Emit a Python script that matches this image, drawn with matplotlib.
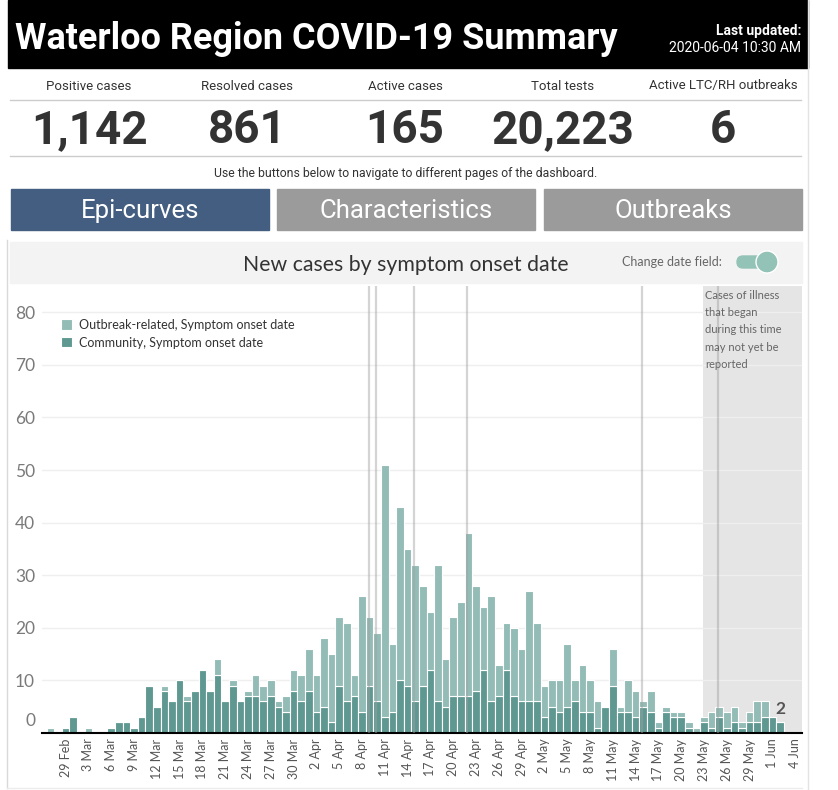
import matplotlib.pyplot as plt
import matplotlib.dates as mdates
from matplotlib.patches import Rectangle, FancyBboxPatch, Circle
from matplotlib.transforms import ScaledTranslation
import pandas as pd

plt.rcParams['font.family'] = ['Lato', 'DejaVu Sans']
COND = ['Roboto', 'DejaVu Sans']

# summary numbers
kpi_labels = ['Positive cases', 'Resolved cases', 'Active cases', 'Total tests', 'Active LTC/RH outbreaks']
kpi_values = [1142, 861, 165, 20223, 6]
buttons = ['Epi-curves', 'Characteristics', 'Outbreaks']

# daily new cases by symptom onset date, 27 Feb - 2 Jun 2020
dates = pd.date_range('2020-02-27', '2020-06-02', freq='D')
community = [0, 0, 1,
             3, 0, 0, 0, 0, 1, 2, 2, 1, 3,
             9, 5, 8, 6, 10, 6, 8, 12, 8, 11,
             6, 9, 6, 7, 7, 6, 7, 5, 4, 8, 6,
             8, 4, 5, 2, 9, 6, 7, 4, 9, 6,
             3, 4, 10, 9, 6, 9, 12, 6, 5, 7,
             7, 7, 8, 12, 6, 7, 12, 7, 6, 6,
             6, 3, 5, 4, 5, 6, 4, 4, 1, 5,
             9, 4, 4, 3, 5, 4, 1, 4, 3, 3,
             1, 0, 2, 1, 3, 1, 2, 1, 2, 2, 3,
             3, 2]
outbreak = [1, 0, 0,
            0, 0, 1, 0, 0, 0, 0, 0, 0, 0,
            0, 0, 1, 0, 0, 1, 0, 0, 0, 3,
            0, 1, 0, 1, 4, 3, 3, 1, 3, 4, 5,
            8, 7, 13, 13, 13, 15, 4, 22, 13, 13,
            48, 13, 33, 26, 26, 19, 11, 26, 9, 15,
            18, 31, 20, 12, 20, 6, 9, 13, 10, 21,
            15, 6, 5, 6, 12, 4, 9, 6, 5, 0,
            7, 1, 6, 5, 1, 4, 1, 1, 1, 1,
            1, 1, 1, 3, 2, 3, 3, 1, 2, 4, 3,
            0, 0]
ref_dates = pd.to_datetime(['2020-04-09', '2020-04-10', '2020-04-15',
                            '2020-04-22', '2020-05-15', '2020-05-25'])
lag_start = pd.Timestamp('2020-05-23')
tick_dates = pd.date_range('2020-02-29', '2020-06-04', freq='3D')
yticks = list(range(0, 81, 10))

DARK = '#5f9891'
LIGHT = '#93bcb6'

fig = plt.figure(figsize=(8.38, 7.9), dpi=100)
renderer = fig.canvas.get_renderer()


def fit(t, width):
    w = t.get_window_extent(renderer).width
    t.set_fontsize(t.get_fontsize() * width / w)


# background layer in pixel coordinates
bg = fig.add_axes([0, 0, 1, 1])
bg.set_xlim(0, 838)
bg.set_ylim(790, 0)
bg.axis('off')

bg.add_patch(Rectangle((8, 0), 800, 68, color='black'))
t = bg.text(15, 39, 'Waterloo Region COVID-19 Summary', color='white',
            fontsize=28, fontweight='bold', va='center', family=COND)
fit(t, 602)
bg.text(801, 31, 'Last updated:', color='white', fontsize=10,
        fontweight='bold', ha='right', va='center', family=COND)
bg.text(801, 48, '2020-06-04 10:30 AM', color='white', fontsize=10,
        ha='right', va='center', family=COND)

kpi_x = [89, 247, 405, 563, 723]
for lab, val, x in zip(kpi_labels, kpi_values, kpi_x):
    bg.text(x, 86, lab, ha='center', va='center', fontsize=9.5, color='#333333', family=COND)
    bg.text(x, 130, f'{val:,}', ha='center', va='center', fontsize=33,
            fontweight='bold', color='#333333', family=COND)
for y in [100, 156]:
    bg.plot([10, 801], [y, y], color='#cccccc', lw=1)
bg.text(406, 173, 'Use the buttons below to navigate to different pages of the dashboard.',
        ha='center', va='center', fontsize=8.8, color='#333333', family=COND)

for i, (name, x0) in enumerate(zip(buttons, [11, 277, 544])):
    bg.add_patch(Rectangle((x0, 189), 258, 41, color='#435e81' if i == 0 else '#9b9b9b'))
    bg.text(x0 + 129, 211, name, ha='center', va='center', fontsize=18.5,
            color='white', family=COND)

bg.add_patch(Rectangle((10, 242), 792, 41, color='#f3f3f3'))
t = bg.text(406, 265, 'New cases by symptom onset date', ha='center', va='center',
            fontsize=13, color='#333333')
fit(t, 323)
bg.text(722, 262, 'Change date field:', ha='right', va='center', fontsize=9, color='#666666')
bg.add_patch(FancyBboxPatch((737, 256), 32, 12, boxstyle='round,pad=0,rounding_size=6',
                            color='#93c2b6'))
bg.add_patch(Circle((767, 262), 11, facecolor='#93c2b6', edgecolor='white', lw=1))

# panel borders
bg.plot([7, 7], [240, 788], color='#d9d9d9', lw=1)
bg.plot([808, 808], [0, 790], color='#e3e3e3', lw=1)
bg.plot([7, 802], [788, 788], color='#ececec', lw=1)

# chart
ax = fig.add_axes([42 / 838, 57 / 790, 760 / 838, 447 / 790])
x = mdates.date2num(dates)
x0 = mdates.date2num(tick_dates[0])
ax.set_xlim(x0 - 3.1, x0 + 96.9)
ax.set_ylim(0, 85)

ax.axvspan(mdates.date2num(lag_start) - 0.15, x0 + 96.9, color='#e5e5e5', lw=0, zorder=0)
ax.set_yticks(yticks)
ax.grid(axis='y', color='#efefef', lw=1, zorder=0.5)
ax.set_axisbelow(True)

b1 = ax.bar(x, community, width=1.0, color=DARK, edgecolor='white', lw=0.8, zorder=2)
b2 = ax.bar(x, outbreak, bottom=community, width=1.0, color=LIGHT, edgecolor='white',
            lw=0.8, zorder=2)

for d in ref_dates:
    ax.axvline(mdates.date2num(d) - 0.12, color='#a0a0a0', alpha=0.45, lw=1.6, zorder=3)

total = [c + o for c, o in zip(community, outbreak)]
ax.annotate(str(total[-1]), (x[-1], total[-1]), xytext=(0, 4), textcoords='offset points',
            ha='center', va='bottom', fontsize=12.5, color='#555555', fontweight='bold')

ax.text(mdates.date2num(lag_start) + 0.2, 84.2,
        'Cases of illness\nthat began\nduring this time\nmay not yet be\nreported',
        ha='left', va='top', fontsize=8, color='#666666', linespacing=1.68)

ax.set_xticks(mdates.date2num(tick_dates))
ax.set_xticklabels([f'{d.day} {d.strftime("%b")}' for d in tick_dates], rotation=90,
                   fontsize=9, color='#555555', va='top', ha='center')
ax.set_yticklabels([str(v) for v in yticks], fontsize=12.5, color='#7a7a7a')
ax.tick_params(length=0)
ax.tick_params(axis='y', pad=5)
ax.tick_params(axis='x', pad=4)
lab0 = ax.get_yticklabels()[0]
lab0.set_transform(lab0.get_transform() + ScaledTranslation(0, 0.13, fig.dpi_scale_trans))

for s in ['top', 'right', 'left']:
    ax.spines[s].set_visible(False)
ax.spines['bottom'].set_linewidth(1.5)
ax.spines['bottom'].set_color('black')

ax.legend([b2, b1], ['Outbreak-related, Symptom onset date', 'Community, Symptom onset date'],
          loc='upper left', bbox_to_anchor=(19 / 760, 1 - 33 / 447), frameon=False,
          fontsize=9, handlelength=0.9, handleheight=0.9, handletextpad=0.5,
          labelspacing=0.45, borderpad=0, borderaxespad=0, labelcolor='#333333')

fig.savefig('out.png', dpi=100)
